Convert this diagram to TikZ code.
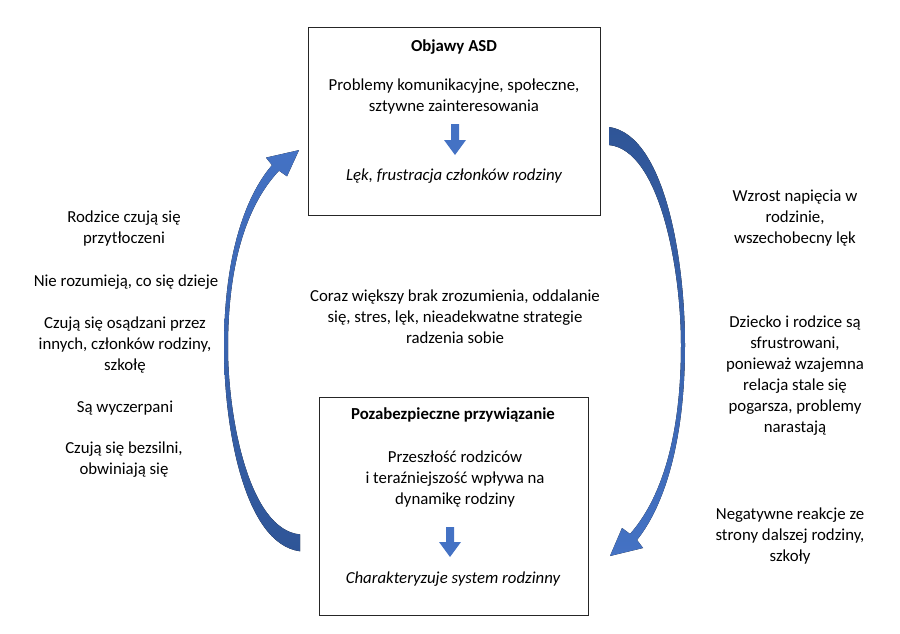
\documentclass[tikz,border=0pt]{standalone}
\usepackage{fontspec}
\setmainfont{Carlito}
\begin{document}
\begin{tikzpicture}[x=1pt,y=-1pt,
  txt/.style={align=center,font=\fontsize{16.8}{21}\selectfont,inner sep=0pt},
  box/.style={draw=black!85,line width=0.8pt},
  sarrow/.style={fill=blue1}]
\definecolor{blue1}{HTML}{4472C4}
\definecolor{blue2}{HTML}{2F5597}
\useasboundingbox (0,0) rectangle (900,634);
\draw[box] (308,27) rectangle (600,215);
\draw[box] (319,397) rectangle (588,615);
% top box
\node[txt,font=\fontsize{16.8}{21}\selectfont\bfseries] (t1) at (454,47) {Objawy ASD};
\node[txt] (t2) at (454,97) {Problemy komunikacyjne, społeczne,\\sztywne zainteresowania};
\fill[sarrow] (451,124) -- (459,124) -- (459,140) -- (466,140) -- (455,155) -- (444,140) -- (451,140) -- cycle;
\node[txt,font=\fontsize{16.8}{21}\selectfont\itshape] (t3) at (454,176) {Lęk, frustracja członków rodziny};
% bottom box
\node[txt,font=\fontsize{16.8}{21}\selectfont\bfseries] (b1) at (453,415) {Pozabezpieczne przywiązanie};
\node[txt] (b2) at (455,479) {Przeszłość rodziców\\i teraźniejszość wpływa na\\dynamikę rodziny};
\fill[sarrow] (446,527) -- (454,527) -- (454,542) -- (461,542) -- (450,557) -- (439,542) -- (446,542) -- cycle;
\node[txt,font=\fontsize{16.8}{21}\selectfont\itshape] (b3) at (453,579) {Charakteryzuje system rodzinny};
% center
\node[txt] (c) at (455,317) {Coraz większy brak zrozumienia, oddalanie\\się, stres, lęk, nieadekwatne strategie\\radzenia sobie};
% left
\node[txt] (l1) at (124,229) {Rodzice czują się\\przytłoczeni};
\node[txt] (l2) at (126,282) {Nie rozumieją, co się dzieje};
\node[txt] (l3) at (125,345) {Czują się osądzani przez\\innych, członków rodziny,\\szkołę};
\node[txt] (l4) at (125,408) {Są wyczerpani};
\node[txt] (l5) at (124,460) {Czują się bezsilni,\\obwiniają się};
% right
\node[txt] (r1) at (795,218) {Wzrost napięcia w\\rodzinie,\\wszechobecny lęk};
\node[txt] (r2) at (795,376) {Dziecko i rodzice są\\sfrustrowani,\\ponieważ wzajemna\\relacja stale się\\pogarsza, problemy\\narastają};
\node[txt] (r3) at (790,536) {Negatywne reakcje ze\\strony dalszej rodziny,\\szkoły};
% curved arrows
\def\bigarrow{(609,127) .. controls (665,135) and (685,260) .. (685,345) .. controls (685,440) and (665,505) .. (637,540) -- (643,548) -- (610,556) -- (622,528) -- (630,534) .. controls (660,500) and (681,440) .. (681,345) .. controls (681,270) and (660,150) .. (609,145) -- cycle}
\fill[top color=blue2,bottom color=blue1] \bigarrow;
\begin{scope}[shift={(909,670)},xscale=-1,yscale=-0.935]
\fill[bottom color=blue2,top color=blue1] \bigarrow;
\end{scope}
\end{tikzpicture}
\end{document}
